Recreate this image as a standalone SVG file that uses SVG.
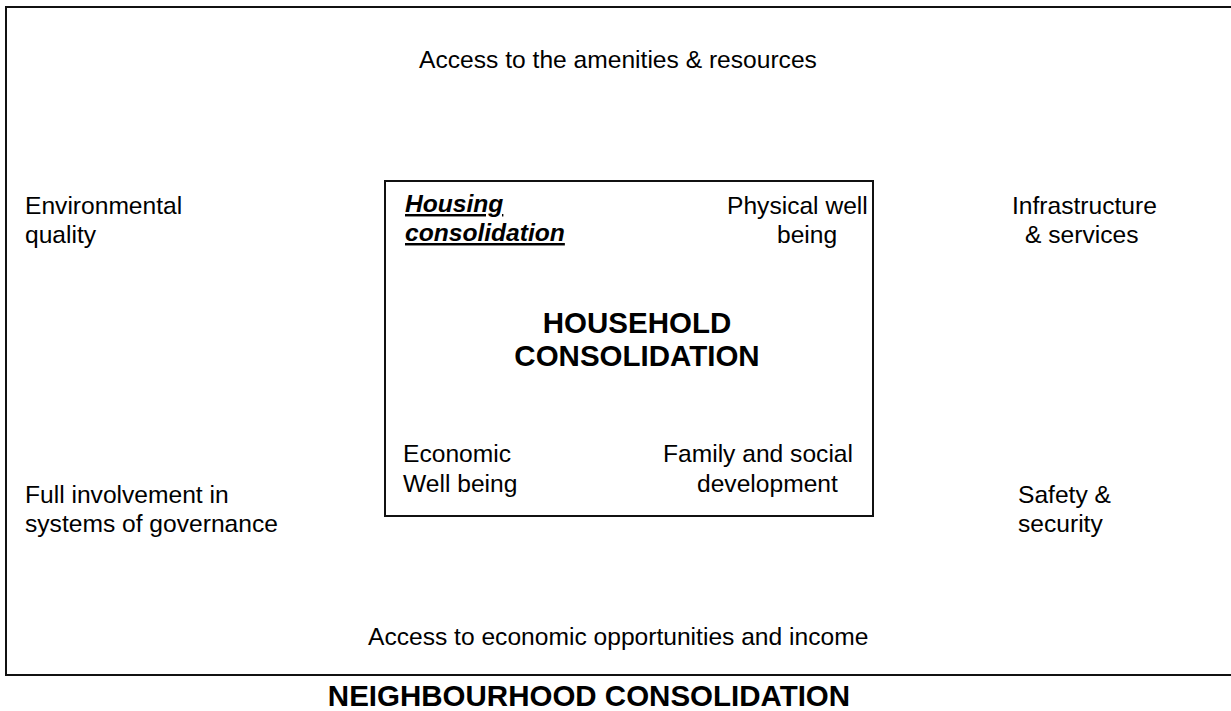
<svg xmlns="http://www.w3.org/2000/svg" width="1231" height="711" viewBox="0 0 1231 711">
  <style>
    .frame { fill: none; stroke: #111; stroke-width: 2; }
    .lbl { font-family: "Liberation Sans", Arial, sans-serif; font-size: 24.6px; fill: #000; }
    .head { font-family: "Liberation Sans", Arial, sans-serif; font-size: 29.5px; font-weight: bold; fill: #000; }
    .emph { font-weight: bold; font-style: italic; text-decoration: underline; }
  </style>
  <rect width="1231" height="711" fill="#fff"/>

  <!-- neighbourhood frame (runs off the right edge) -->
  <g id="neighbourhood">
    <rect class="frame" x="6" y="7" width="1240" height="668"/>
    <text class="head" x="589" y="706" text-anchor="middle">NEIGHBOURHOOD CONSOLIDATION</text>
  </g>

  <g id="amenities">
    <text class="lbl" x="618" y="68" text-anchor="middle">Access to the amenities &amp; resources</text>
  </g>

  <g id="environment">
    <text class="lbl" x="25" y="214">Environmental</text>
    <text class="lbl" x="25" y="243">quality</text>
  </g>

  <g id="infrastructure">
    <text class="lbl" x="1012" y="214">Infrastructure</text>
    <text class="lbl" x="1025" y="243">&amp; services</text>
  </g>

  <g id="governance">
    <text class="lbl" x="25" y="503">Full involvement in</text>
    <text class="lbl" x="25" y="532">systems of governance</text>
  </g>

  <g id="safety">
    <text class="lbl" x="1018" y="503">Safety &amp;</text>
    <text class="lbl" x="1018" y="532">security</text>
  </g>

  <g id="economic-access">
    <text class="lbl" x="368" y="645">Access to economic opportunities and income</text>
  </g>

  <!-- household box -->
  <g id="household">
    <rect class="frame" x="385" y="181" width="488" height="335"/>
    <text class="head" x="637" y="333" text-anchor="middle">HOUSEHOLD</text>
    <text class="head" x="637" y="366" text-anchor="middle">CONSOLIDATION</text>
  </g>

  <g id="housing">
    <text class="lbl emph" x="405" y="212">Housing</text>
    <text class="lbl emph" x="405" y="241">consolidation</text>
  </g>

  <g id="physical">
    <text class="lbl" x="727" y="214">Physical well</text>
    <text class="lbl" x="777" y="243">being</text>
  </g>

  <g id="economic">
    <text class="lbl" x="403" y="462">Economic</text>
    <text class="lbl" x="403" y="492">Well being</text>
  </g>

  <g id="family">
    <text class="lbl" x="663" y="462">Family and social</text>
    <text class="lbl" x="697" y="492">development</text>
  </g>

  <g id="connectors"></g>
</svg>
